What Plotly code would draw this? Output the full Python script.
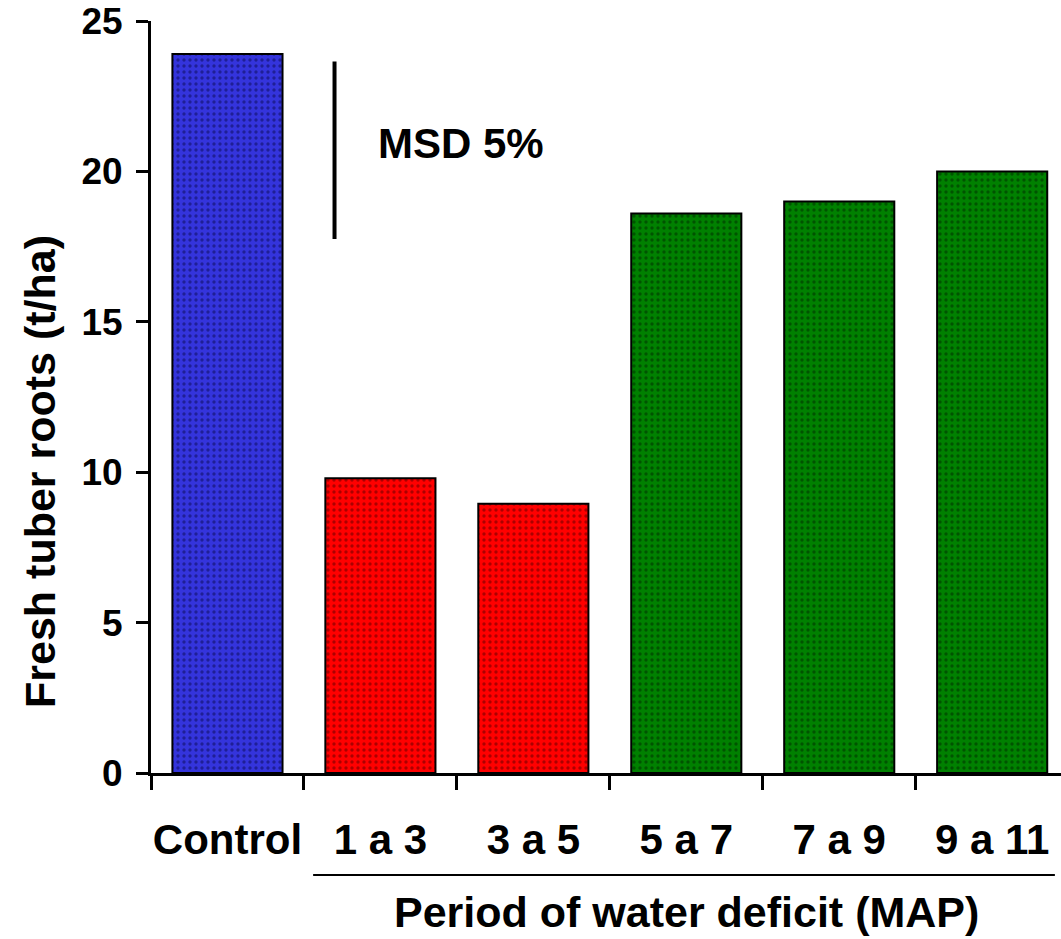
import plotly.graph_objects as go

categories = ["Control", "1 a 3", "3 a 5", "5 a 7", "7 a 9", "9 a 11"]
values = [23.9, 9.8, 8.95, 18.6, 19.0, 20.0]
colors = ["#3434DC", "#FF0000", "#FF0000", "#008000", "#008000", "#008000"]
dot_colors = ["#0A0A50", "#5A0000", "#5A0000", "#002800", "#002800", "#002800"]
y_ticks = [0, 5, 10, 15, 20, 25]
msd_label = "MSD 5%"
msd_base = 17.75
msd_value = 5.9
msd_x = 0.7
x_title = "Period of water deficit (MAP)"
y_title = "Fresh tuber roots (t/ha)"

FONT = "Liberation Sans, Arial, sans-serif"

fig = go.Figure()
for cat, val, col, dcol in zip(categories, values, colors, dot_colors):
    fig.add_trace(go.Bar(
        x=[cat], y=[val],
        width=0.72,
        marker=dict(
            color=col,
            line=dict(color="black", width=2),
            pattern=dict(shape=".", fgcolor=dcol, bgcolor=col,
                         size=6, solidity=0.25, fillmode="overlay"),
        ),
        showlegend=False,
    ))

# MSD bar
fig.add_shape(type="line", xref="x", yref="y",
              x0=msd_x, x1=msd_x, y0=msd_base, y1=msd_base + msd_value,
              line=dict(color="black", width=4))
fig.add_annotation(x=msd_x + 0.27, y=msd_base + msd_value * 0.54, xref="x", yref="y",
                   text="<b>" + msd_label + "</b>", showarrow=False, xanchor="left",
                   font=dict(family=FONT, size=42, color="black"))

# underline for water deficit group
fig.add_shape(type="line", xref="x", yref="paper",
              x0=0.56, x1=5.41, y0=-0.1356, y1=-0.1356,
              line=dict(color="black", width=2))
fig.add_annotation(x=3, y=-0.185, xref="x", yref="paper",
                   text="<b>" + x_title + "</b>", showarrow=False,
                   yanchor="middle",
                   font=dict(family=FONT, size=43, color="black"))
fig.add_annotation(x=-0.122, y=0.4016, xref="paper", yref="paper",
                   text="<b>" + y_title + "</b>", showarrow=False, textangle=-90,
                   xanchor="center", yanchor="middle",
                   font=dict(family=FONT, size=43, color="black"))

fig.update_layout(
    width=1061, height=939,
    margin=dict(l=151, r=0, t=21, b=166, autoexpand=False),
    plot_bgcolor="white", paper_bgcolor="white",
    barmode="overlay",
    font=dict(family=FONT, color="black"),
    xaxis=dict(
        range=[-0.5, 5.45],
        automargin=False,
        showline=True, linecolor="black", linewidth=3,
        ticks="outside", ticklen=14, tickwidth=3, tickcolor="black",
        tickson="boundaries",
        tickangle=0,
        categoryorder="array", categoryarray=categories,
        tickvals=categories,
        ticktext=["<b>" + c + "</b>" for c in categories],
        tickfont=dict(family=FONT, size=42, color="black"),
        ticklabelstandoff=28,
        showgrid=False, zeroline=False, fixedrange=True,
    ),
    yaxis=dict(
        range=[0, 25],
        automargin=False,
        showline=True, linecolor="black", linewidth=3,
        ticks="outside", ticklen=12, tickwidth=3, tickcolor="black",
        tickvals=y_ticks,
        ticktext=["<b>%d</b>" % v for v in y_ticks],
        tickfont=dict(family=FONT, size=37, color="black"),
        ticklabelstandoff=6,
        showgrid=False, zeroline=False, fixedrange=True,
    ),
)

fig.write_html("out.html")
